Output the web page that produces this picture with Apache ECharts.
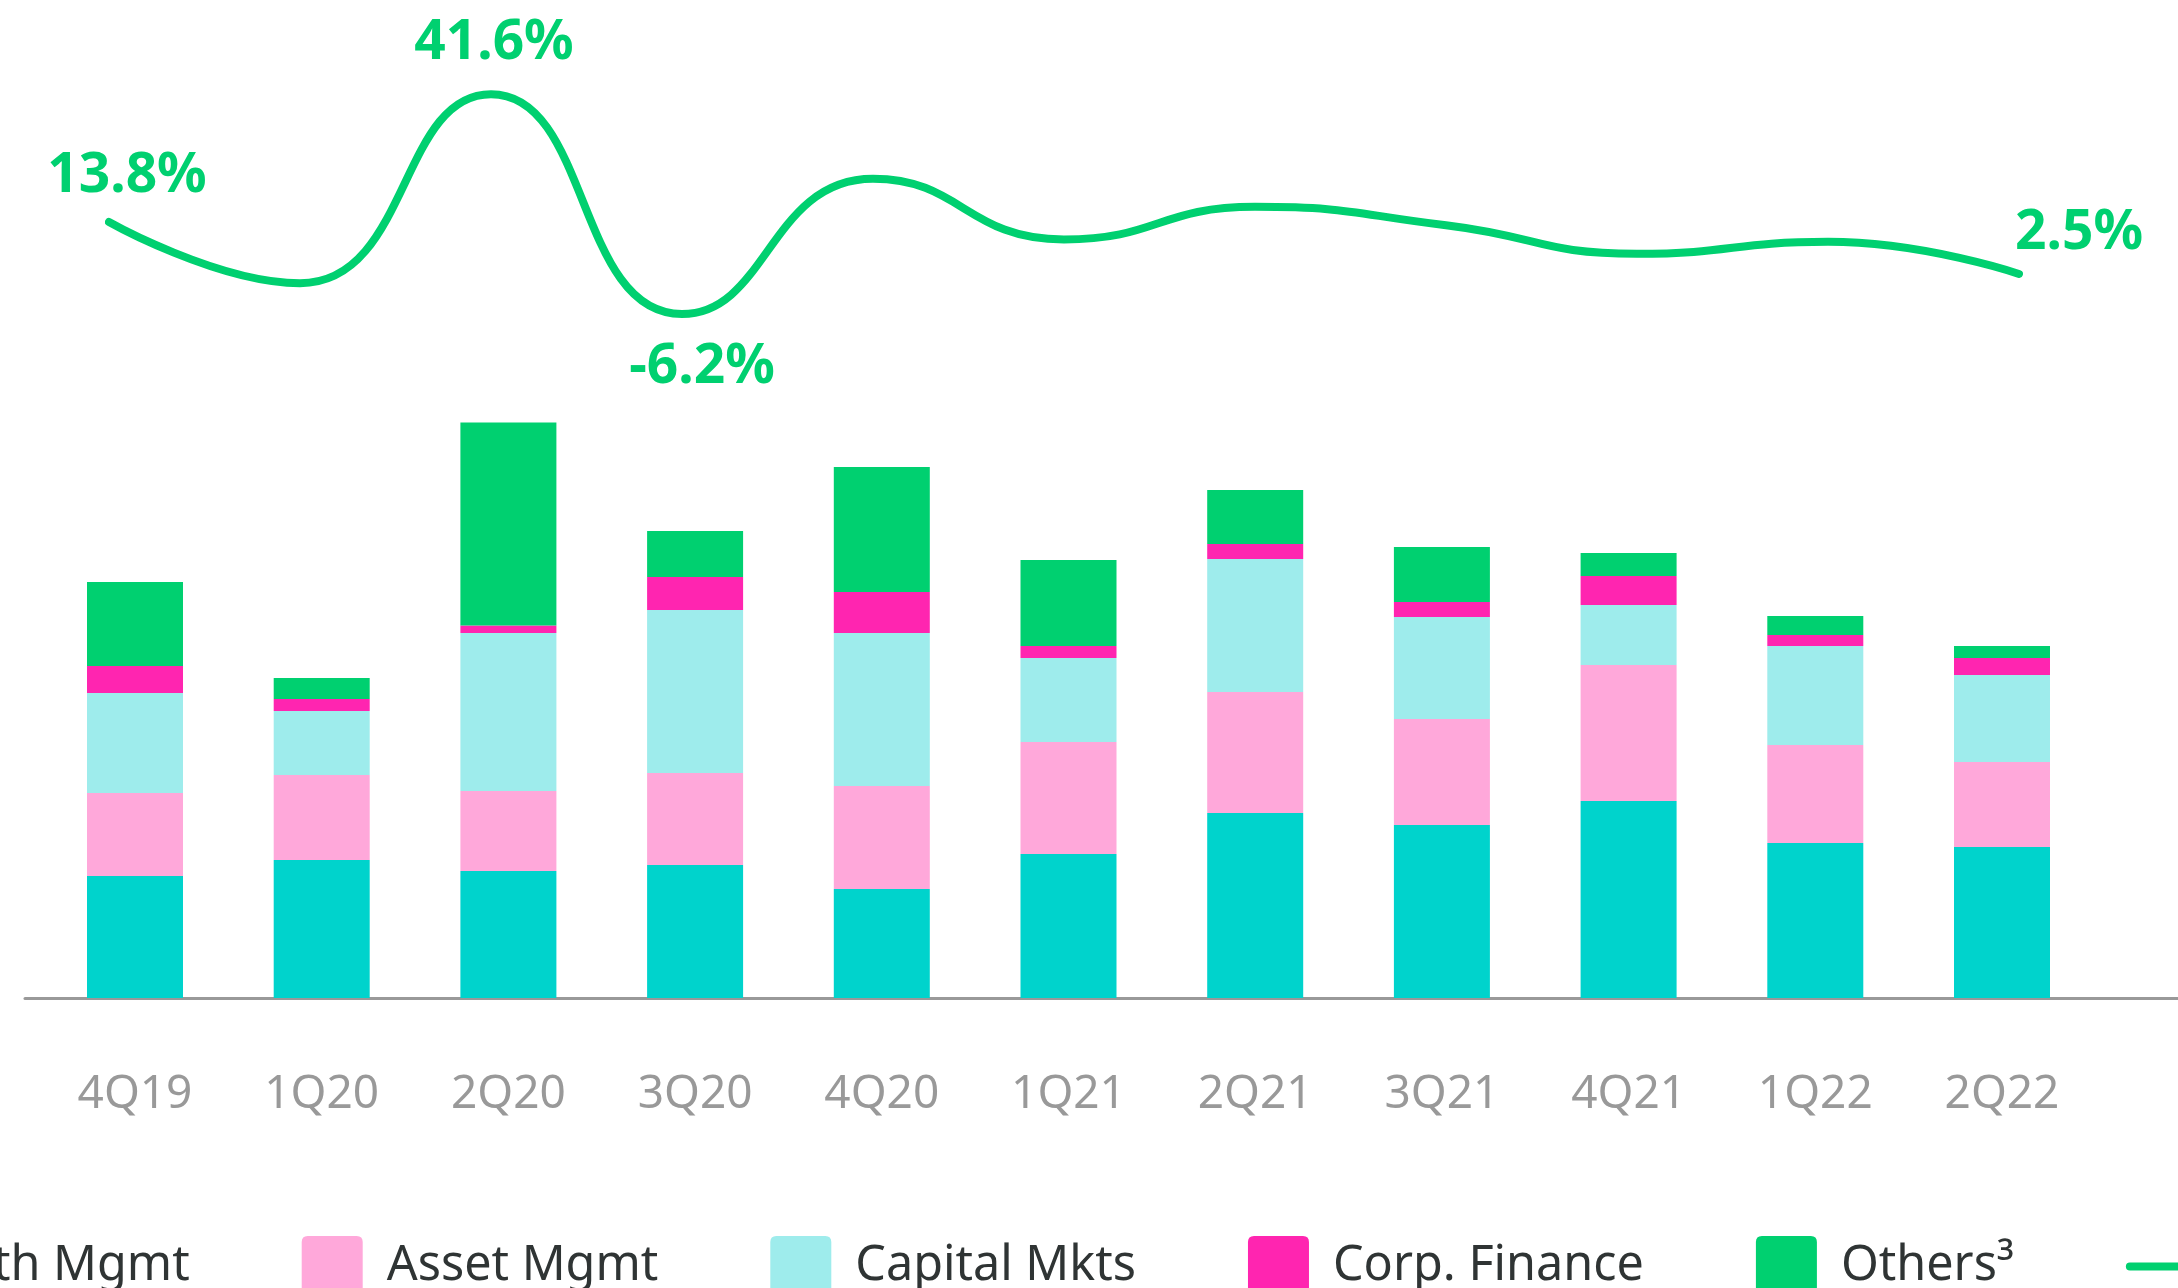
<!DOCTYPE html>
<html><head><meta charset="utf-8">
<script src="https://cdn.jsdelivr.net/npm/echarts@6/dist/echarts.min.js"></script>
<style>
html,body{margin:0;padding:0;overflow:hidden;background:#fff;width:2178px;height:1288px}
#c{position:absolute;left:-200px;top:0;width:3400px;height:1340px}
</style></head>
<body><div id="c"></div>
<script>
// ---- data ----
const categories = ['4Q19','1Q20','2Q20','3Q20','4Q20','1Q21','2Q21','3Q21','4Q21','1Q22','2Q22'];
const seriesNames = ['Wealth Mgmt','Asset Mgmt','Capital Mkts','Corp. Finance','Others\u00B3'];
const wealthMgmt  = [122,138,127,133,109,144,185,173,197,155,151];
const assetMgmt   = [83, 85, 80, 92, 103,112,121,106,136,98, 85];
const capitalMkts = [100,64, 158,163,153,84, 133,102,60, 99, 87];
const corpFinance = [27, 12, 7.5,33, 41, 12, 15, 15, 29, 11, 17];
const others      = [84, 21, 203,46, 125,86, 54, 55, 23, 19, 12];
const growthName  = 'Revenue growth';
const growth      = [13.8,0.5,41.6,-6.2,23.2,10.0,17.1,13.1,6.9,9.5,2.5];
const labeledPoints = [0,2,3,10];

// ---- styles ----
const FONT = 'Noto Sans';
const colors = ['#00D3CC','#FFA8DA','#9EECEC','#FF25B0','#00D070'];
const lineColor = '#00D070';
const labelOffsets = {0:[18,-46],2:[3,-51],3:[20,53],10:[60,-41]};
const LEGEND_FS = 48.5;
const sq = 'path://M6,0H55Q61,0,61,6V55Q61,61,55,61H6Q0,61,0,55V6Q0,0,6,0Z';
const lineIcon = 'path://M4,0H57A4,4,0,0,1,57,8H4A4,4,0,0,1,4,0Z';
const X0 = 200; // div offset

// position legend so the second swatch lands where it is in the reference
const mctx = document.createElement('canvas').getContext('2d');
mctx.font = LEGEND_FS + 'px "' + FONT + '"';
const firstTextW = mctx.measureText(seriesNames[0]).width;
const legendLeft = X0 + 301.7 - (61 + 5 + 19 + firstTextW + 112) - 5;

const barValues = [wealthMgmt, assetMgmt, capitalMkts, corpFinance, others];

const barSeries = barValues.map((vals, i) => ({
  name: seriesNames[i], type: 'bar', stack: 'total', data: vals,
  xAxisIndex: 0, yAxisIndex: 0, barWidth: 96,
  itemStyle: {color: colors[i]}
}));

const lineData = growth.map((v, i) => {
  const show = labeledPoints.indexOf(i) >= 0;
  return {
    value: v,
    label: show ? {show: true, position: 'inside', offset: labelOffsets[i],
      formatter: v.toFixed(1) + '%'} : {show: false}
  };
});

const legendData = seriesNames.map((n) => ({name: n, icon: sq}))
  .concat([{name: growthName, icon: lineIcon}]);

const chart = echarts.init(document.getElementById('c'), null, {renderer: 'canvas'});
chart.setOption({
  animation: false,
  backgroundColor: '#fff',
  grid: [
    {left: X0 + 41.65, width: 2053.7, top: 398, height: 600, outerBoundsMode: 'none'},
    {left: X0 + 109, width: 1910, top: 55.5, height: 276, outerBoundsMode: 'none'},
    {left: X0 + 25, width: 2300, top: 398, height: 600, outerBoundsMode: 'none'}
  ],
  xAxis: [
    {type: 'category', gridIndex: 0, data: categories,
      axisLine: {show: false}, axisTick: {show: false}, splitLine: {show: false},
      axisLabel: {margin: 74, fontSize: 46, color: '#999999', fontFamily: FONT}},
    {type: 'category', gridIndex: 1, data: categories, boundaryGap: false, show: false},
    {type: 'value', gridIndex: 2, min: 0, max: 1, position: 'bottom',
      axisLine: {show: true, onZero: false, lineStyle: {color: '#999999', width: 3}},
      axisTick: {show: false}, axisLabel: {show: false}, splitLine: {show: false}}
  ],
  yAxis: [
    {type: 'value', gridIndex: 0, min: 0, max: 600, show: false},
    {type: 'value', gridIndex: 1, min: -10, max: 50, show: false},
    {type: 'value', gridIndex: 2, min: 0, max: 1, show: false}
  ],
  legend: {
    left: legendLeft, top: 1231, orient: 'horizontal', selectedMode: false,
    itemWidth: 61, itemHeight: 61, itemGap: 112,
    textStyle: {fontFamily: FONT, fontSize: LEGEND_FS, color: '#2F3434', padding: [0, 0, 10, 19]},
    data: legendData
  },
  series: barSeries.concat([{
    name: growthName, type: 'line', xAxisIndex: 1, yAxisIndex: 1,
    data: lineData, smooth: 0.5, symbol: 'circle', symbolSize: 0.1, showSymbol: true,
    itemStyle: {color: lineColor},
    lineStyle: {color: lineColor, width: 8, cap: 'round'},
    label: {fontFamily: FONT, fontWeight: 'bold', fontSize: 55, color: lineColor},
    z: 5
  }])
});
</script>
</body></html>
